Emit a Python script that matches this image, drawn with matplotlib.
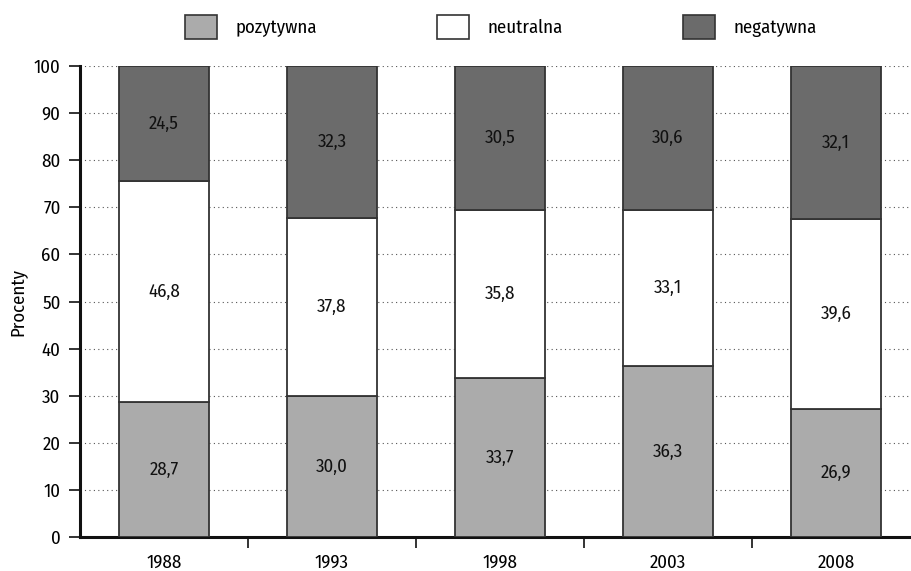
import matplotlib
matplotlib.use("Agg")
import matplotlib.pyplot as plt
from matplotlib.patches import Patch
from matplotlib.ticker import FixedLocator, NullFormatter
import numpy as np

plt.rcParams['font.family'] = ['Fira Sans Condensed', 'PT Sans Narrow', 'Roboto Condensed',
                               'Barlow Semi Condensed', 'DejaVu Sans']

years = ['1988', '1993', '1998', '2003', '2008']
pozytywna = [28.7, 30.0, 33.7, 36.3, 26.9]
neutralna = [46.8, 37.8, 35.8, 33.1, 39.6]
negatywna = [24.5, 32.3, 30.5, 30.6, 32.1]
series_names = ['pozytywna', 'neutralna', 'negatywna']
colors = ['#ababab', '#ffffff', '#6b6b6b']

FS = 13.5

fig = plt.figure(figsize=(9.12, 5.71), dpi=100)
W, H = 912, 571
ax = fig.add_axes([80 / W, 1 - 537 / H, (912 - 80) / W, (537 - 66) / H])

# 100% stacked: each year's answers scaled to a full bar
series = np.array([pozytywna, neutralna, negatywna])
shares = series / series.sum(axis=0) * 100

x = np.arange(len(years))
bottom = np.zeros(len(years))
for vals, share, col in zip(series, shares, colors):
    ax.bar(x, share, width=0.54, bottom=bottom, color=col,
           edgecolor='#333333', linewidth=1.3, zorder=3)
    for xi, b, s, v in zip(x, bottom, share, vals):
        ax.text(xi, b + s / 2, f"{v:.1f}".replace('.', ','), ha='center',
                va='center', fontsize=FS, color='#111111', zorder=4)
    bottom = bottom + share

ax.set_xlim(-0.5, 4.5 - 8 / 168)
ax.set_ylim(0, 100)
ax.set_yticks(np.arange(0, 101, 10))
ax.yaxis.grid(True, linestyle=(0, (1, 3)), color='#555555', linewidth=0.8, zorder=0)

ax.set_xticks(x)
ax.set_xticklabels(years)
ax.tick_params(axis='x', which='major', length=0, pad=12, labelsize=FS)
ax.xaxis.set_minor_locator(FixedLocator([0.5, 1.5, 2.5, 3.5]))
ax.xaxis.set_minor_formatter(NullFormatter())
ax.tick_params(axis='x', which='minor', length=8, width=1.2, direction='out', color='#111111')
ax.tick_params(axis='y', length=8, width=1.2, direction='out', labelsize=FS, pad=6, color='#111111')

for s in ['top', 'right']:
    ax.spines[s].set_visible(False)
ax.spines['left'].set_linewidth(2.2)
ax.spines['bottom'].set_linewidth(2.2)
ax.spines['left'].set_color('#111111')
ax.spines['bottom'].set_color('#111111')

ax.set_ylabel('Procenty', fontsize=FS, labelpad=5)

handles = [Patch(facecolor=c, edgecolor='#333333', linewidth=1.2) for c in colors]
fig.legend(handles, series_names, loc='center', bbox_to_anchor=(501 / W, 1 - 27 / H),
           ncol=3, frameon=False, fontsize=FS, handlelength=1.7, handleheight=1.6,
           columnspacing=6.4, handletextpad=1.0)

fig.savefig('out.png', dpi=100)
